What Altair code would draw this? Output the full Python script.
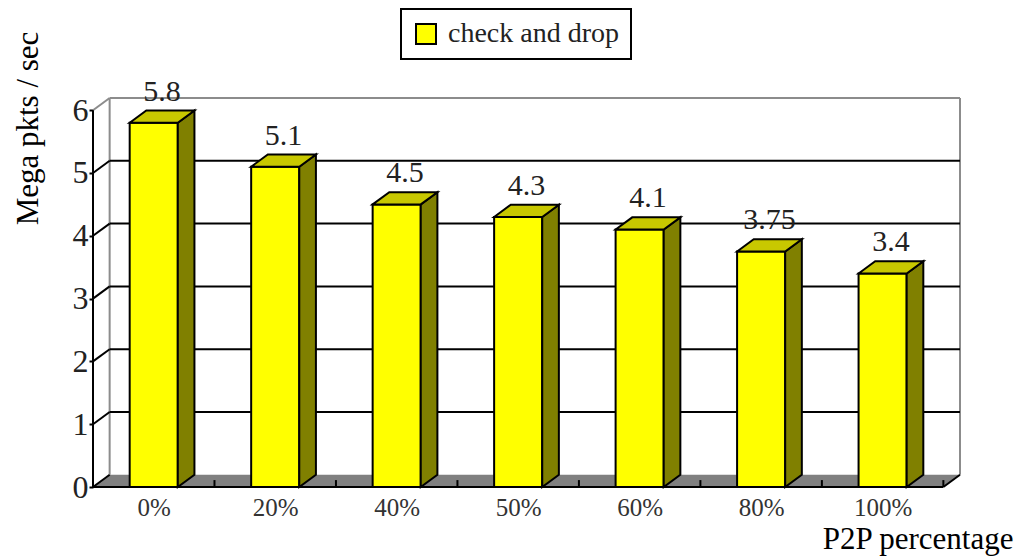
import altair as alt
import pandas as pd

# Throughput per P2P share
categories = ["0%", "20%", "40%", "50%", "60%", "80%", "100%"]
values = [5.8, 5.1, 4.5, 4.3, 4.1, 3.75, 3.4]
series_name = "check and drop"
y_ticks = [0, 1, 2, 3, 4, 5, 6]

# 3-D look: half bar width, depth offset along x and y (data units)
HW = 0.198
DX = 0.137
DY = 0.194
X_LO, X_HI = -0.5, len(categories) - 0.5
Y_TOP = max(y_ticks)

FONT = "Liberation Serif"
FRONT = "#FFFF00"
SIDE = "#808000"
TOP = "#C8C800"
FLOOR = "#808080"
WALL = "#8C8C8C"

xscale = alt.Scale(domain=[X_LO, X_HI + DX], nice=False, zero=False)
yscale = alt.Scale(domain=[0, Y_TOP + DY], nice=False, zero=False)

label_expr = "[" + ",".join("'%s'" % c for c in categories) + "][datum.value]"

X_AXIS = alt.Axis(values=list(range(len(categories))), labelExpr=label_expr,
                  title="P2P percentage", domain=False, ticks=False, grid=False,
                  labelFont=FONT, labelFontSize=25, labelColor="#333333",
                  labelPadding=8, titleFont=FONT, titleFontSize=31,
                  titleFontWeight="normal", titleColor="black",
                  titleAnchor="end", titleAlign="right", titleBaseline="alphabetic",
                  titleX=920, titleY=61)
Y_AXIS = alt.Axis(values=y_ticks, title="Mega pkts / sec", domain=False, grid=False,
                  tickSize=4, tickColor="black", tickWidth=2, labelPadding=1,
                  labelFont=FONT, labelFontSize=32, labelColor="#222222",
                  titleFont=FONT, titleFontSize=31, titleFontWeight="normal",
                  titleColor="black", titleAngle=-90, titleAlign="center",
                  titleBaseline="alphabetic", titleX=-56, titleY=30)


def X(field):
    return alt.X(field, scale=xscale, axis=X_AXIS)


def Y(field):
    return alt.Y(field, scale=yscale, axis=Y_AXIS)


# ---- tables built from the arrays above ----
front = pd.DataFrame({
    "cat": categories,
    "x0": [i - HW for i in range(len(values))],
    "x1": [i + HW for i in range(len(values))],
    "lo": [0.0] * len(values),
    "v": values,
    "series": [series_name] * len(values),
})

side_rows, top_rows = [], []
for i, v in enumerate(values):
    side_rows += [
        {"cat": categories[i], "x": i + HW, "lo": 0.0, "hi": v},
        {"cat": categories[i], "x": i + HW + DX, "lo": DY, "hi": v + DY},
    ]
    top_rows += [
        {"cat": categories[i], "x": i - HW, "lo": v, "hi": v},
        {"cat": categories[i], "x": i - HW + DX, "lo": v, "hi": v + DY},
        {"cat": categories[i], "x": i + HW, "lo": v, "hi": v + DY},
        {"cat": categories[i], "x": i + HW + DX, "lo": v + DY, "hi": v + DY},
    ]
side = pd.DataFrame(side_rows)
top = pd.DataFrame(top_rows)

labels = pd.DataFrame({
    "x": [i + DX / 2 for i in range(len(values))],
    "y": [v + DY for v in values],
    "txt": [("%g" % v) for v in values],
})

floor = pd.DataFrame([
    {"x": X_LO, "lo": 0.0, "hi": 0.0},
    {"x": X_LO + DX, "lo": 0.0, "hi": DY},
    {"x": X_HI, "lo": 0.0, "hi": DY},
    {"x": X_HI + DX, "lo": DY, "hi": DY},
])

# black lines: back-wall grid, side-wall grid, front axis, floor edges, floor ticks
black = []
for k in y_ticks[1:-1]:
    black.append({"x": X_LO + DX, "y": k + DY, "x2": X_HI + DX, "y2": k + DY})
    black.append({"x": X_LO, "y": k, "x2": X_LO + DX, "y2": k + DY})
black.append({"x": X_LO, "y": 0, "x2": X_LO, "y2": Y_TOP})
black.append({"x": X_LO, "y": 0, "x2": X_HI, "y2": 0})
black.append({"x": X_LO, "y": 0, "x2": X_LO + DX, "y2": DY})
black.append({"x": X_HI, "y": 0, "x2": X_HI + DX, "y2": DY})
for k in range(1, len(categories) + 1):
    black.append({"x": X_LO + k, "y": 0, "x2": X_LO + k, "y2": 0.11})
black = pd.DataFrame(black)

# grey outline of the walls
grey = pd.DataFrame([
    {"x": X_LO + DX, "y": Y_TOP + DY, "x2": X_HI + DX, "y2": Y_TOP + DY},
    {"x": X_LO, "y": Y_TOP, "x2": X_LO + DX, "y2": Y_TOP + DY},
    {"x": X_LO + DX, "y": DY, "x2": X_LO + DX, "y2": Y_TOP + DY},
    {"x": X_HI + DX, "y": DY, "x2": X_HI + DX, "y2": Y_TOP + DY},
])

# ---- layers ----
floor_layer = alt.Chart(floor).mark_area(color=FLOOR, opacity=1).encode(
    x=X("x:Q"), y=Y("hi:Q"), y2="lo:Q",
)

grey_lines = alt.Chart(grey).mark_rule(color=WALL, strokeWidth=2).encode(
    x=X("x:Q"), x2="x2:Q", y=Y("y:Q"), y2="y2:Q",
)
black_lines = alt.Chart(black).mark_rule(color="black", strokeWidth=2).encode(
    x=X("x:Q"), x2="x2:Q", y=Y("y:Q"), y2="y2:Q",
)

bars = alt.Chart(front).mark_bar(stroke="black", strokeWidth=2, opacity=1).encode(
    x=X("x0:Q"), x2="x1:Q", y=Y("v:Q"), y2="lo:Q",
    color=alt.Color("series:N",
                    scale=alt.Scale(domain=[series_name], range=[FRONT]),
                    legend=alt.Legend(orient="none", legendX=308, legendY=-89, title=None,
                                      symbolType="square", symbolSize=400,
                                      symbolStrokeColor="black", symbolStrokeWidth=2,
                                      symbolOpacity=1, labelFont=FONT, labelFontSize=28,
                                      labelColor="#222222", labelLimit=400, labelOffset=8,
                                      padding=11, fillColor="white", strokeColor="black")),
)

sides = alt.Chart(side).mark_area(color=SIDE, stroke="black", strokeWidth=2,
                                  opacity=1, strokeJoin="miter").encode(
    x=X("x:Q"), y=Y("hi:Q"), y2="lo:Q", detail="cat:N",
)
tops = alt.Chart(top).mark_area(color=TOP, stroke="black", strokeWidth=2,
                                opacity=1, strokeJoin="miter").encode(
    x=X("x:Q"), y=Y("hi:Q"), y2="lo:Q", detail="cat:N",
)

value_text = alt.Chart(labels).mark_text(font=FONT, fontSize=30, color="#222222",
                                         baseline="alphabetic", dy=-10).encode(
    x=X("x:Q"), y=Y("y:Q"), text="txt:N",
)

chart = alt.layer(
    floor_layer, grey_lines, black_lines, bars, sides, tops, value_text
).properties(
    width=867, height=389,
    padding={"left": 93, "top": 98, "right": 62, "bottom": 70},
    autosize=alt.AutoSizeParams(type="none"),
    background="white",
).configure_view(
    strokeWidth=0
).configure_legend(
    strokeWidth=2
)

chart.save("out.html", embed_options={"renderer": "svg", "actions": False})
